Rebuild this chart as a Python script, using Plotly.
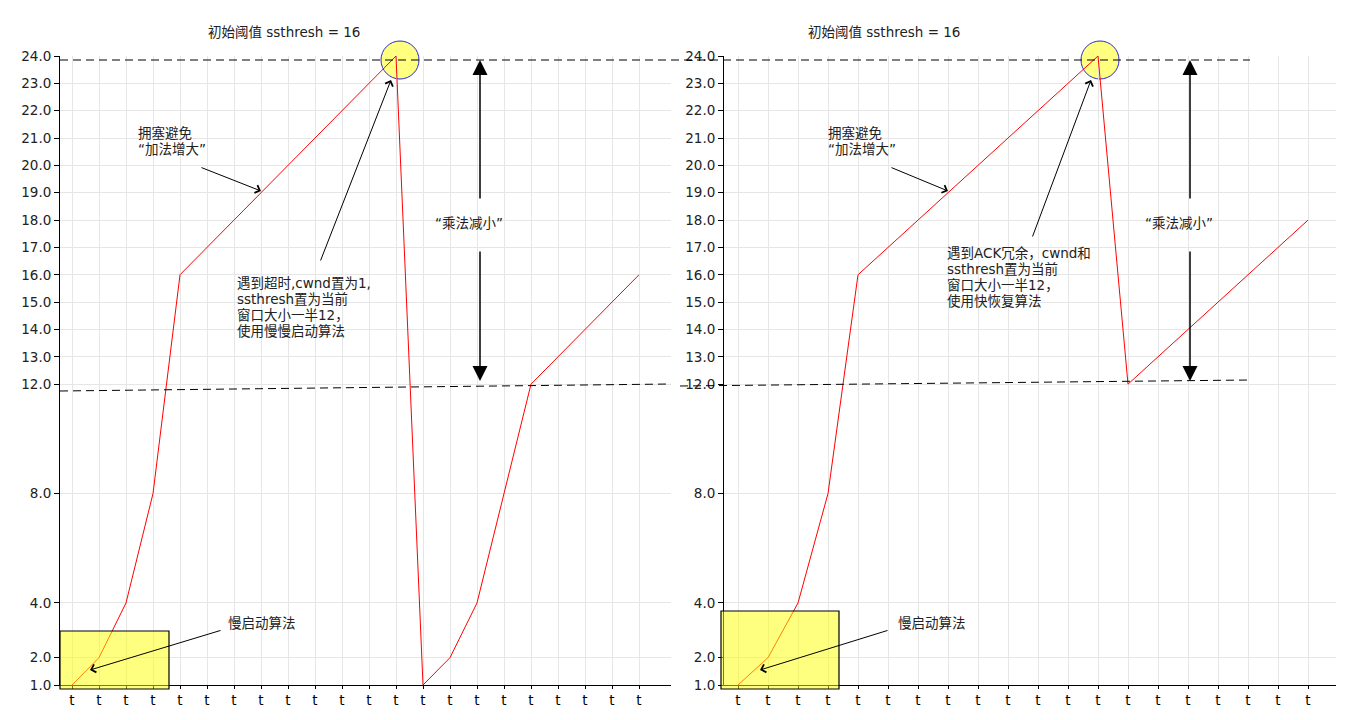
import plotly.graph_objects as go

# ---------------- data ----------------
left_cwnd = [1, 2, 4, 8, 16, 17, 18, 19, 20, 21, 22, 23, 24, 1, 2, 4, 8, 12, 13, 14, 15, 16]
right_cwnd = [1, 2, 4, 8, 16, 17, 18, 19, 20, 21, 22, 23, 24, 12, 13, 14, 15, 16, 17, 18]
x_label = "t"
y_tickvals = [1, 2, 4, 8, 12, 13, 14, 15, 16, 17, 18, 19, 20, 21, 22, 23, 24]
title_text = "初始阈值 ssthresh = 16"
left_notes = {
    "ca": ["拥塞避免", "“加法增大”"],
    "event": ["遇到超时,cwnd置为1,", "ssthresh置为当前", "窗口大小一半12，", "使用慢慢启动算法"],
    "md": "“乘法减小”",
    "ss": "慢启动算法",
}
right_notes = {
    "ca": ["拥塞避免", "“加法增大”"],
    "event": ["遇到ACK冗余，cwnd和", "ssthresh置为当前", "窗口大小一半12，", "使用快恢复算法"],
    "md": "“乘法减小”",
    "ss": "慢启动算法",
}

W, H = 1370, 720
FONT = "DejaVu Sans, Noto Sans CJK SC, sans-serif"
FS = 13.5


def P(px, py):
    return px / W, 1 - py / H


# pixel geometry of the two plot areas
L_X0, L_X1 = 60, 671
R_X0, R_X1 = 724, 1336
Y_TOP, Y_BOT = 56, 685

fig = go.Figure()
xs_l = list(range(len(left_cwnd)))
xs_r = list(range(len(right_cwnd)))
fig.add_trace(go.Scatter(x=xs_l, y=left_cwnd, mode="lines", line=dict(color="red", width=1),
                         xaxis="x", yaxis="y", showlegend=False, hoverinfo="skip"))
fig.add_trace(go.Scatter(x=xs_r, y=right_cwnd, mode="lines", line=dict(color="red", width=1),
                         xaxis="x2", yaxis="y2", showlegend=False, hoverinfo="skip"))

ydom = [1 - Y_BOT / H, 1 - Y_TOP / H]


def xaxis_cfg(n, x0px, x1px, first_px, step):
    lo = (x0px - first_px) / step
    hi = (x1px - first_px) / step
    return dict(domain=[x0px / W, x1px / W], range=[lo, hi], automargin=False,
                tickvals=list(range(n)), ticktext=[x_label] * n,
                showgrid=True, gridcolor="#e6e6e6", gridwidth=1,
                showline=True, linecolor="black", linewidth=1,
                ticks="outside", ticklen=3, tickcolor="black",
                zeroline=False, tickfont=dict(family=FONT, size=FS, color="black"))


def yaxis_cfg(anchor):
    return dict(domain=ydom, range=[1, 24], anchor=anchor, automargin=False,
                tickvals=y_tickvals, ticktext=[f"{v:.1f}" for v in y_tickvals],
                showgrid=True, gridcolor="#e6e6e6", gridwidth=1,
                showline=True, linecolor="black", linewidth=1,
                ticks="outside", ticklen=5, tickcolor="black",
                zeroline=False, tickfont=dict(family=FONT, size=FS, color="#222"))


fig.update_layout(
    width=W, height=H, margin=dict(l=0, r=0, t=0, b=0, pad=0), autosize=False,
    paper_bgcolor="white", plot_bgcolor="white",
    xaxis=dict(xaxis_cfg(len(left_cwnd), L_X0, L_X1, 72, 27), anchor="y"),
    yaxis=yaxis_cfg("x"),
    xaxis2=dict(xaxis_cfg(len(right_cwnd), R_X0, R_X1, 738, 30), anchor="y2"),
    yaxis2=yaxis_cfg("x2"),
    font=dict(family=FONT, size=FS, color="#222"),
)

shapes = []
anns = []


def text(px, py, s, xanchor="left"):
    x, y = P(px, py)
    anns.append(dict(x=x, y=y, xref="paper", yref="paper", text=s, showarrow=False,
                     xanchor=xanchor, yanchor="middle", font=dict(family=FONT, size=FS, color="#222")))


def lines(px, py, arr, step=16):
    for i, s in enumerate(arr):
        text(px, py + i * step, s)


def arrow(tx, ty, hx, hy, head=4, size=1.6, width=1):
    x, y = P(hx, hy)
    anns.append(dict(x=x, y=y, xref="paper", yref="paper", text="", showarrow=True,
                     ax=tx - hx, ay=ty - hy, axref="pixel", ayref="pixel",
                     arrowhead=head, arrowsize=size, arrowwidth=width, arrowcolor="black",
                     standoff=0))


def circle(cx, cy, r):
    x0, y0 = P(cx - r, cy + r)
    x1, y1 = P(cx + r, cy - r)
    shapes.append(dict(type="circle", xref="paper", yref="paper", x0=x0, y0=y0, x1=x1, y1=y1,
                       fillcolor="#ffff80", line=dict(color="#2a2ad0", width=1), layer="between"))


def rect(x0p, y0p, x1p, y1p):
    x0, y0 = P(x0p, y1p)
    x1, y1 = P(x1p, y0p)
    shapes.append(dict(type="rect", xref="paper", yref="paper", x0=x0, y0=y0, x1=x1, y1=y1,
                       fillcolor="rgba(255,255,0,0.5)", line=dict(color="black", width=1.2), layer="above"))


def dline(x0p, y0p, x1p, y1p):
    x0, y0 = P(x0p, y0p)
    x1, y1 = P(x1p, y1p)
    shapes.append(dict(type="line", xref="paper", yref="paper", x0=x0, y0=y0, x1=x1, y1=y1,
                       line=dict(color="black", width=1, dash="8px,5px"), layer="above"))


# ----- left panel decorations -----
text(284, 32, title_text, xanchor="center")
dline(60, 60, 671, 60)
dline(60, 391, 671, 384)
circle(400, 60, 19)
rect(60, 631, 169, 689)
lines(136, 133, left_notes["ca"])
arrow(200, 167, 261, 191)
lines(235, 283, left_notes["event"])
arrow(320, 262, 391, 80)
text(469, 223, left_notes["md"], xanchor="center")
arrow(480, 200, 480, 60, head=2, size=2, width=1.5)
arrow(480, 250, 480, 381, head=2, size=2, width=1.5)
text(226, 623, left_notes["ss"])
arrow(222, 630, 90, 670)

# ----- right panel decorations -----
text(884, 32, title_text, xanchor="center")
dline(671, 60, 1250, 60)
dline(680, 386, 1250, 380)
circle(1100, 60, 19)
rect(721, 611, 839, 689)
lines(826, 133, right_notes["ca"])
arrow(890, 167, 948, 191)
lines(945, 253, right_notes["event"])
arrow(1032, 238, 1091, 80)
text(1179, 223, right_notes["md"], xanchor="center")
arrow(1190, 200, 1190, 60, head=2, size=2, width=1.5)
arrow(1190, 250, 1190, 381, head=2, size=2, width=1.5)
text(896, 623, right_notes["ss"])
arrow(889, 630, 760, 670)

fig.update_layout(shapes=shapes, annotations=anns)
fig.write_html("out.html")
